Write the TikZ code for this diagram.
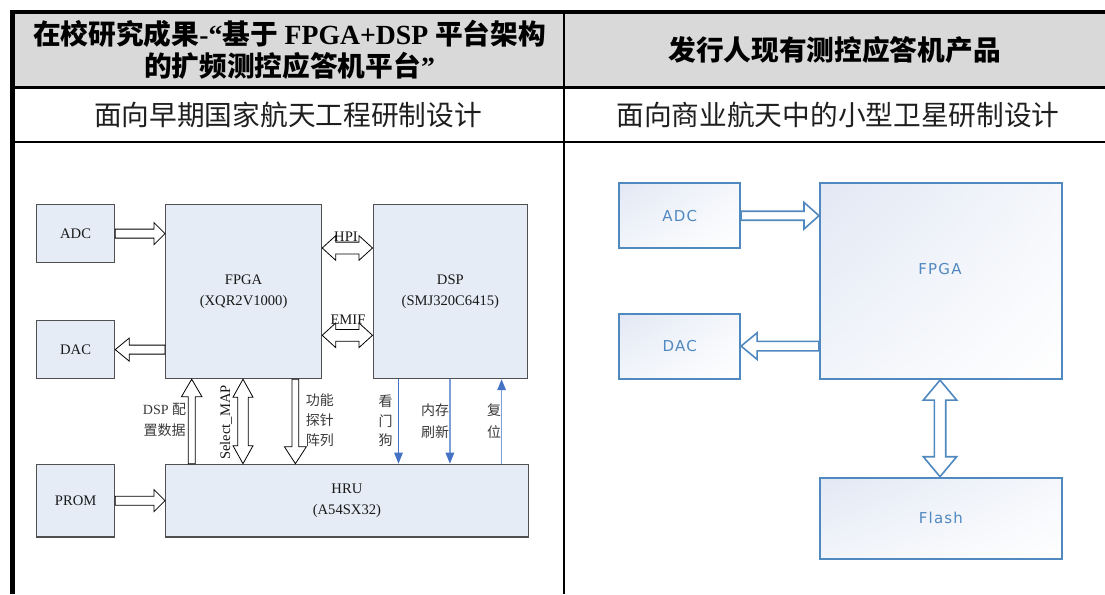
\documentclass[tikz,border=0pt]{standalone}
\usepackage{fontspec}
\setmainfont{Liberation Serif}
\newfontfamily\cjk{Noto Sans CJK SC}
\newfontfamily\dsans[LetterSpace=8]{DejaVu Sans}
\usetikzlibrary{arrows.meta,calc,shadings}
\definecolor{hdrgray}{HTML}{D9D9D9}
\definecolor{boxfill}{HTML}{E6ECF6}
\definecolor{boxline}{HTML}{505050}
\definecolor{bluehead}{HTML}{4472C4}
\definecolor{bluelight}{HTML}{7DA0D6}
\definecolor{rblue}{HTML}{5088C0}
\definecolor{rfill}{HTML}{E2E8F4}
\definecolor{lblgray}{HTML}{3A3A3A}
\newcommand\hfont{\fontsize{27.7pt}{30pt}\selectfont}
\newcommand\bfont{\fontsize{14.6pt}{21.4pt}\selectfont}
\newcommand\cfont{\fontsize{14pt}{20.2pt}\selectfont\cjk}
\newcommand\rfont{\fontsize{15pt}{18pt}\selectfont\dsans}
% single block arrow: style, from, to, shaft half, head half, head length
\newcommand\sarr[6]{%
  \path #2 coordinate (tA) #3 coordinate (tB);
  \path ($(tB)!#6!(tA)$) coordinate (tH);
  \draw[#1] ($(tA)!#4!90:(tB)$) -- ($(tH)!#4!90:(tB)$) -- ($(tH)!#5!90:(tB)$) -- (tB)
    -- ($(tH)!#5!-90:(tB)$) -- ($(tH)!#4!-90:(tB)$) -- ($(tA)!#4!-90:(tB)$) -- cycle;}
% double block arrow
\newcommand\darr[6]{%
  \path #2 coordinate (tA) #3 coordinate (tB);
  \path ($(tB)!#6!(tA)$) coordinate (tH) ($(tA)!#6!(tB)$) coordinate (tG);
  \draw[#1] (tA) -- ($(tG)!#5!90:(tB)$) -- ($(tG)!#4!90:(tB)$) -- ($(tH)!#4!90:(tB)$)
    -- ($(tH)!#5!90:(tB)$) -- (tB) -- ($(tH)!#5!-90:(tB)$) -- ($(tH)!#4!-90:(tB)$)
    -- ($(tG)!#4!-90:(tB)$) -- ($(tG)!#5!-90:(tB)$) -- cycle;}
\tikzset{
  lbox/.style={draw=boxline, fill=boxfill, line width=1.2pt, inner sep=0pt, anchor=north west,
    align=center, font=\bfont, text=black!90},
  rbox/.style={draw=rblue, line width=1.8pt, inner sep=0pt, anchor=north west,
    upper left=rfill, upper right=rfill!35!white, lower left=rfill!45!white, lower right=white,
    font=\rfont, text=rblue},
  harrow/.style={draw=black, fill=white, line width=0.8pt, line join=miter},
  rarrow/.style={draw=rblue, fill=white, line width=1.6pt, line join=miter},
  thinblue/.style={draw=bluehead, line width=1pt, -{Triangle[length=11pt,width=8.5pt]}, color=bluehead},
  thinlight/.style={draw=bluelight, line width=1.4pt, -{Triangle[length=11pt,width=8.5pt,color=bluehead,fill=bluehead]}},
  hdr/.style={inner sep=0pt, font=\hfont, text=black},
  sub/.style={inner sep=0pt, font=\hfont\cjk, text=black!88},
  clbl/.style={inner sep=0pt, align=center, font=\cfont, text=lblgray},
  tlbl/.style={inner sep=0pt, font=\bfont, text=black!90}
}
\begin{document}
\begin{tikzpicture}[x=1pt,y=-1pt]
\useasboundingbox (0,0) rectangle (1105,594);
\fill[white] (0,0) rectangle (1105,594);
% ---- table ----
\fill[hdrgray] (13,13) rectangle (1105,87.3);
\draw[line width=2.7pt] (12.5,87.3) -- (1105,87.3);
\draw[line width=2.7pt] (12.5,142) -- (1105,142);
\draw[line width=2.7pt] (564,12) -- (564,594);
\draw[line width=4.5pt, line join=miter] (12.5,594) -- (12.5,12) -- (1105,12);
% header texts
\node[hdr] (h1a) at (289.5,34) {{\bfseries\cjk 在校研究成果}{\bfseries -“}{\bfseries\cjk 基于} {\bfseries FPGA+DSP} {\bfseries\cjk 平台架构}};
\node[hdr] (h1b) at (289.5,66) {{\bfseries\cjk 的扩频测控应答机平台}{\bfseries ”}};
\node[hdr] (h2) at (834.5,50) {{\bfseries\cjk 发行人现有测控应答机产品}};
\node[sub] (s1) at (288,115) {面向早期国家航天工程研制设计};
\node[sub] (s2) at (838,115) {面向商业航天中的小型卫星研制设计};
% ---- left diagram ----
\node[lbox, minimum width=78pt, minimum height=58pt] (adc) at (36,204) {ADC};
\node[lbox, minimum width=78pt, minimum height=58pt] (dac) at (36,320) {DAC};
\node[lbox, minimum width=156pt, minimum height=174pt] (fpga) at (165,204) {FPGA\\(XQR2V1000)};
\node[lbox, minimum width=154.5pt, minimum height=174pt] (dsp) at (372.5,204) {DSP\\(SMJ320C6415)};
\node[lbox, minimum width=78pt, minimum height=72.7pt] (prom) at (36,463.7) {PROM};
\node[lbox, minimum width=362.6pt, minimum height=72.7pt] (hru) at (165,463.7) {HRU\\(A54SX32)};
\sarr{harrow}{(adc.east)}{(fpga.west |- adc.east)}{4.5pt}{11pt}{11pt}
\sarr{harrow}{(fpga.west |- dac.east)}{(dac.east)}{4.5pt}{11.5pt}{14pt}
\sarr{harrow}{(prom.east)}{(hru.west |- prom.east)}{4.5pt}{11pt}{11pt}
\coordinate (hpiy) at (0,248);
\coordinate (emify) at (0,335.3);
\darr{harrow}{(fpga.east |- hpiy)}{(dsp.west |- hpiy)}{5.9pt}{12.3pt}{13.5pt}
\darr{harrow}{(fpga.east |- emify)}{(dsp.west |- emify)}{5.9pt}{12.3pt}{13.5pt}
\node[tlbl] (hpi) at (346,236.3) {HPI};
\node[tlbl] (emif) at (348,319.4) {EMIF};
\coordinate (cfgx) at (191.7,0);
\coordinate (selx) at (243,0);
\coordinate (fnx) at (295.4,0);
\sarr{harrow}{(cfgx |- hru.north)}{(cfgx |- fpga.south)}{3.5pt}{10.3pt}{17.6pt}
\darr{harrow}{(selx |- hru.north)}{(selx |- fpga.south)}{5.2pt}{10pt}{18pt}
\sarr{harrow}{(fnx |- fpga.south)}{(fnx |- hru.north)}{3.4pt}{11pt}{17pt}
\node[clbl, font=\fontsize{14pt}{21.3pt}\selectfont] (cfglbl) at (164.5,420.3) {DSP {\cjk 配}\\{\cjk 置数据}};
\node[tlbl, rotate=90] (sellbl) at (226,422.5) {Select\_MAP};
\node[clbl] (fnlbl) at (319.8,420.2) {功能\\探针\\阵列};
\coordinate (wdx) at (398.5,0);
\coordinate (memx) at (449.9,0);
\coordinate (rstx) at (501.6,0);
\draw[thinblue] (wdx |- dsp.south) -- (wdx |- hru.north);
\draw[thinlight] (memx |- dsp.south) -- (memx |- hru.north);
\draw[thinlight] (rstx |- hru.north) -- (rstx |- dsp.south);
\node[clbl, font=\fontsize{14pt}{19.5pt}\selectfont\cjk] (wdlbl) at (385.7,421) {看\\门\\狗};
\node[clbl, font=\fontsize{14pt}{21.3pt}\selectfont\cjk] (memlbl) at (435,421.3) {内存\\刷新};
\node[clbl, font=\fontsize{14pt}{21.3pt}\selectfont\cjk] (rstlbl) at (494,421.3) {复\\位};
% ---- right diagram ----
\node[rbox, minimum width=121pt, minimum height=65pt] (radc) at (618.3,182.3) {ADC};
\node[rbox, minimum width=121pt, minimum height=65pt] (rdac) at (618.3,312.7) {DAC};
\node[rbox, minimum width=242pt, minimum height=196pt] (rfpga) at (819,182.3) {};
\node[rbox, minimum width=241.4pt, minimum height=81.6pt] (rflash) at (819.3,476.7) {Flash};
\node[inner sep=0pt, font=\rfont, text=rblue] (rfpgalbl) at (940,269.3) {FPGA};
\sarr{rarrow}{(radc.east)}{(rfpga.west |- radc.east)}{4.5pt}{13.3pt}{15pt}
\sarr{rarrow}{(rfpga.west |- rdac.east)}{(rdac.east)}{4.7pt}{13.3pt}{16pt}
\coordinate (flx) at (940,0);
\darr{rarrow}{(flx |- rfpga.south)}{(flx |- rflash.north)}{5.7pt}{16.7pt}{20pt}
\end{tikzpicture}
\end{document}
